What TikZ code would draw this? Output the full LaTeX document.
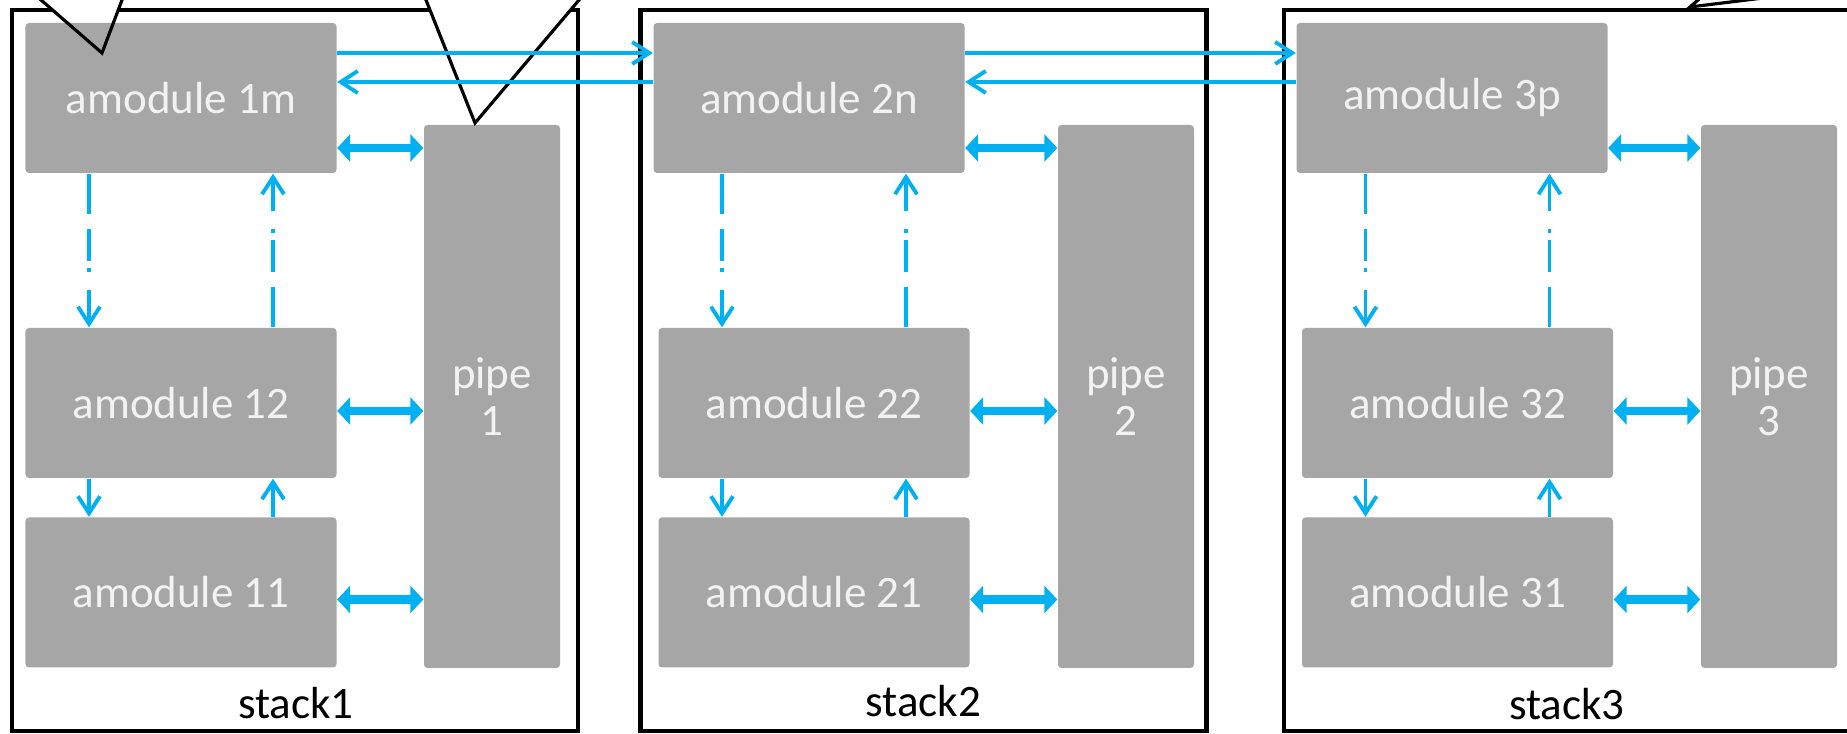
\documentclass[tikz,border=0pt]{standalone}
\usepackage{fontspec}
\setmainfont{Carlito}
\usetikzlibrary{arrows.meta}
\definecolor{modgray}{HTML}{A6A6A6}
\definecolor{modtext}{HTML}{F2F2F2}
\definecolor{linkblue}{HTML}{00B0F0}
\tikzset{
  module/.style={fill=modgray, text=modtext, rounded corners=1pt, inner sep=0pt,
    minimum width=3.11cm, minimum height=1.5cm},
  pipebox/.style={module, minimum width=1.36cm, minimum height=5.43cm, align=center},
  stackbox/.style={draw=black, line width=1.2pt, inner sep=0pt,
    minimum width=5.66cm, minimum height=7.21cm},
  thinlink/.style={draw=linkblue, line width=1.1pt, -{Straight Barb[length=0.17cm, width=0.22cm]}},
  dashlink/.style={thinlink, dash pattern=on 0.4cm off 0.15cm on 0.32cm off 0.07cm on 0.04cm off 0.18cm},
  buslink/.style={draw=linkblue, line width=2.4pt,
    {Triangle[length=0.13cm, width=0.27cm]}-{Triangle[length=0.13cm, width=0.27cm]}}
}

\begin{document}
\begin{tikzpicture}[font=\fontsize{12.8}{13.5}\selectfont]
    \useasboundingbox (0,0) rectangle (18.47,7.34);

    % Stacks
    \node[stackbox] (S1) at (2.95,3.635) {};
    \node[stackbox] (S2) at (9.235,3.635) {};
    \node[stackbox] (S3) at (15.67,3.635) {};
    \node[anchor=base] (S1text) at (2.96,0.15) {stack1};
    \node[anchor=base] (S2text) at (9.235,0.17) {stack2};
    \node[anchor=base] (S3text) at (15.67,0.14) {stack3};

    % Callout pointers (white inside)
    \fill[white] (0.295,7.44) -- (1.02,6.81) -- (1.258,7.44) -- cycle;
    \fill[white] (4.22,7.44) -- (4.75,6.11) -- (5.875,7.44) -- cycle;
    \fill[white] (17.094,7.44) -- (16.90,7.27) -- (18.28,7.44) -- cycle;

    % Modules in stack 1
    \node[module] (M1m) at (1.81,6.36) {amodule 1m};
    \node[module] (M12) at (1.81,3.31) {amodule 12};
    \node[module] (M11) at (1.81,1.415) {amodule 11};
    \node[pipebox] (P1) at (4.92,3.375) {pipe\\1};

    % Modules in stack 2
    \node[module] (M2n) at (8.09,6.36) {amodule 2n};
    \node[module] (M22) at (8.14,3.31) {amodule 22};
    \node[module] (M21) at (8.14,1.415) {amodule 21};
    \node[pipebox] (P2) at (11.26,3.375) {pipe\\2};

    % Modules in stack 3
    \node[module] (M3p) at (14.52,6.36) {amodule 3p};
    \node[module] (M32) at (14.575,3.31) {amodule 32};
    \node[module] (M31) at (14.575,1.415) {amodule 31};
    \node[pipebox] (P3) at (17.69,3.375) {pipe\\3};

    % Callout pointers (outline)
    \draw[line width=0.9pt] (0.295,7.44) -- (1.02,6.81) -- (1.258,7.44);
    \draw[line width=0.9pt] (4.22,7.44) -- (4.75,6.11) -- (5.875,7.44);
    \draw[line width=0.9pt] (17.094,7.44) -- (16.90,7.27) -- (18.28,7.44);

    % Links between stacks
    \draw[thinlink] ([yshift=0.45cm]M1m.east) -- ([yshift=0.45cm]M2n.west);
    \draw[thinlink] ([yshift=0.16cm]M2n.west) -- ([yshift=0.16cm]M1m.east);
    \draw[thinlink] ([yshift=0.45cm]M2n.east) -- ([yshift=0.45cm]M3p.west);
    \draw[thinlink] ([yshift=0.16cm]M3p.west) -- ([yshift=0.16cm]M2n.east);

    % Module <-> pipe
    \draw[buslink] ([yshift=-0.5cm]M1m.east) -- ([yshift=-0.5cm]M1m.east -| P1.west);
    \draw[buslink] ([yshift=-0.08cm]M12.east) -- ([yshift=-0.08cm]M12.east -| P1.west);
    \draw[buslink] ([yshift=-0.07cm]M11.east) -- ([yshift=-0.07cm]M11.east -| P1.west);
    \draw[buslink] ([yshift=-0.5cm]M2n.east) -- ([yshift=-0.5cm]M2n.east -| P2.west);
    \draw[buslink] ([yshift=-0.08cm]M22.east) -- ([yshift=-0.08cm]M22.east -| P2.west);
    \draw[buslink] ([yshift=-0.07cm]M21.east) -- ([yshift=-0.07cm]M21.east -| P2.west);
    \draw[buslink] ([yshift=-0.5cm]M3p.east) -- ([yshift=-0.5cm]M3p.east -| P3.west);
    \draw[buslink] ([yshift=-0.08cm]M32.east) -- ([yshift=-0.08cm]M32.east -| P3.west);
    \draw[buslink] ([yshift=-0.07cm]M31.east) -- ([yshift=-0.07cm]M31.east -| P3.west);

    % Down/up links inside each stack
    \draw[dashlink] ([xshift=-0.92cm]M12.north |- M1m.south) -- ([xshift=-0.92cm]M12.north);
    \draw[dashlink] ([xshift=0.92cm]M12.north) -- ([xshift=0.92cm]M12.north |- M1m.south);
    \draw[thinlink] ([xshift=-0.92cm]M12.south) -- ([xshift=-0.92cm]M11.north);
    \draw[thinlink] ([xshift=0.92cm]M11.north) -- ([xshift=0.92cm]M12.south);

    \draw[dashlink] ([xshift=-0.92cm]M22.north |- M2n.south) -- ([xshift=-0.92cm]M22.north);
    \draw[dashlink] ([xshift=0.92cm]M22.north) -- ([xshift=0.92cm]M22.north |- M2n.south);
    \draw[thinlink] ([xshift=-0.92cm]M22.south) -- ([xshift=-0.92cm]M21.north);
    \draw[thinlink] ([xshift=0.92cm]M21.north) -- ([xshift=0.92cm]M22.south);

    \draw[dashlink] ([xshift=-0.92cm]M32.north |- M3p.south) -- ([xshift=-0.92cm]M32.north);
    \draw[dashlink] ([xshift=0.92cm]M32.north) -- ([xshift=0.92cm]M32.north |- M3p.south);
    \draw[thinlink] ([xshift=-0.92cm]M32.south) -- ([xshift=-0.92cm]M31.north);
    \draw[thinlink] ([xshift=0.92cm]M31.north) -- ([xshift=0.92cm]M32.south);
\end{tikzpicture}
\end{document}
